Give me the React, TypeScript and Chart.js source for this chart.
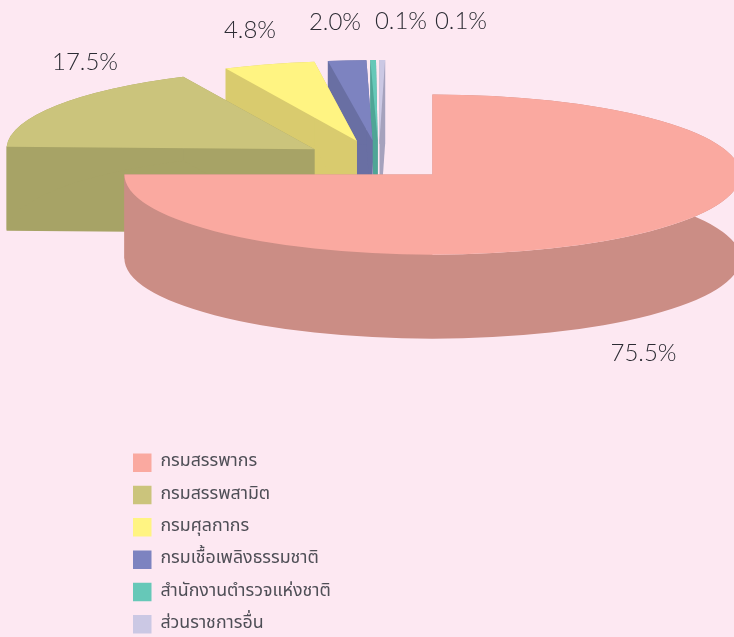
import React, { useEffect, useRef } from "react";
import { Chart, registerables } from "chart.js";

Chart.register(...registerables);

// ---- data ----
const categories = [
  "กรมสรรพากร",
  "กรมสรรพสามิต",
  "กรมศุลกากร",
  "กรมเชื้อเพลิงธรรมชาติ",
  "สำนักงานตำรวจแห่งชาติ",
  "ส่วนราชการอื่น",
];
const shares = [75.5, 17.5, 4.8, 2.0, 0.1, 0.1];
const topColors = ["#faa9a0", "#cbc47c", "#fff482", "#7d83c0", "#66c8b8", "#cbc8e4"];
const wallColors = ["#cb8d85", "#a7a366", "#d9cb6e", "#696fa3", "#4fa596", "#a5a2bd"];
const labelAnchors = [
  [643.5, 353],
  [85, 62],
  [250, 30],
  [335, 22],
  [401, 21],
  [461, 21],
];

// ---- look of the 3D pie ----
const PAGE_BG = "#fde8f2";
const WIDTH = 734;
const HEIGHT = 637;
const CX = 378.8;
const CY = 160.2;
const RADIUS = 308;
const SQUASH = 0.26;
const DEPTH = 84;
const EXPLODE = 77;
const MIN_SWEEP = (1.05 * Math.PI) / 180;
const sliverShift = [0, 0, 0, -0.4, -0.3, 0.7].map((d) => (d * Math.PI) / 180);
const FLAT_END = Math.PI; // the large slice's rim stops on the horizontal
const LEGEND_X = 133;
const LEGEND_Y = 453.5;
const LEGEND_PADDING = 13.8;
const FONT_THAI = "'Noto Sans Thai','Noto Sans','Liberation Sans',sans-serif";
const FONT_NUM = "Lato,'Open Sans',sans-serif";

const pie3d = {
  id: "pie3d",
  afterLayout(chart: any) {
    chart.chartArea = {
      left: CX - RADIUS,
      right: CX + RADIUS,
      top: CY - RADIUS,
      bottom: CY + RADIUS,
      width: RADIUS * 2,
      height: RADIUS * 2,
    };
    const lg = chart.legend;
    if (lg) {
      const w = lg.width;
      lg.left = LEGEND_X - LEGEND_PADDING;
      lg.right = lg.left + w;
      lg.top = LEGEND_Y - LEGEND_PADDING;
      lg.bottom = HEIGHT + 40;
      lg.height = lg.bottom - lg.top;
    }
  },
  beforeDatasetDraw(chart: any, args: any) {
    const ctx: CanvasRenderingContext2D = chart.ctx;
    const arcs = args.meta.data;
    for (let i = arcs.length - 1; i >= 0; i--) {
      const a = arcs[i].getProps(["x", "y", "startAngle", "endAngle", "outerRadius"], true);
      let start = a.startAngle;
      let end = a.endAngle;
      if (end - start < MIN_SWEEP) {
        const m = (start + end) / 2;
        start = m - MIN_SWEEP / 2;
        end = m + MIN_SWEEP / 2;
      }
      start += sliverShift[i];
      end += sliverShift[i];
      const mid = (a.startAngle + a.endAngle) / 2 + sliverShift[i];
      if (i === 0) end = Math.min(end, FLAT_END);
      const r = a.outerRadius;
      const ry = r * SQUASH;
      const x0 = a.x + Math.cos(mid) * EXPLODE;
      const y0 = a.y + Math.sin(mid) * EXPLODE * SQUASH;
      const px = (t: number) => x0 + Math.cos(t) * r;
      const py = (t: number) => y0 + Math.sin(t) * ry;

      ctx.save();
      // radial faces
      ctx.fillStyle = wallColors[i];
      for (const t of [start, end]) {
        ctx.beginPath();
        ctx.moveTo(x0, y0);
        ctx.lineTo(px(t), py(t));
        ctx.lineTo(px(t), py(t) + DEPTH);
        ctx.lineTo(x0, y0 + DEPTH);
        ctx.closePath();
        ctx.fill();
      }
      // outer wall
      ctx.beginPath();
      ctx.ellipse(x0, y0, r, ry, 0, start, end);
      ctx.ellipse(x0, y0 + DEPTH, r, ry, 0, end, start, true);
      ctx.closePath();
      ctx.fill();
      // top face
      ctx.fillStyle = topColors[i];
      ctx.beginPath();
      ctx.moveTo(x0, y0);
      ctx.ellipse(x0, y0, r, ry, 0, start, end);
      ctx.closePath();
      ctx.fill();
      ctx.restore();
    }
    return false;
  },
  afterDraw(chart: any) {
    const ctx: CanvasRenderingContext2D = chart.ctx;
    ctx.save();
    ctx.font = `300 24px ${FONT_NUM}`;
    ctx.fillStyle = "#2c2c34";
    ctx.textAlign = "center";
    ctx.textBaseline = "middle";
    shares.forEach((v, i) => {
      ctx.fillText(`${v.toFixed(1)}%`, labelAnchors[i][0], labelAnchors[i][1]);
    });
    ctx.restore();
  },
};

export default function App() {
  const ref = useRef<HTMLCanvasElement | null>(null);
  useEffect(() => {
    document.body.style.margin = "0";
    document.body.style.background = PAGE_BG;
    const chart = new Chart(ref.current as HTMLCanvasElement, {
      type: "pie",
      data: {
        labels: categories,
        datasets: [{ data: shares, backgroundColor: topColors, borderWidth: 0 }],
      },
      options: {
        responsive: false,
        animation: false,
        plugins: {
          tooltip: { enabled: false },
          legend: {
            display: true,
            position: "left",
            align: "start",
            labels: {
              boxWidth: 18.5,
              boxHeight: 18.5,
              padding: LEGEND_PADDING,
              color: "#4e4e56",
              font: { family: FONT_THAI, size: 17.8 },
            },
          },
        },
      },
      plugins: [pie3d],
    } as any);
    return () => chart.destroy();
  }, []);
  return (
    <canvas
      ref={ref}
      width={WIDTH}
      height={HEIGHT}
      style={{ display: "block", width: WIDTH, height: HEIGHT, background: PAGE_BG }}
    />
  );
}
